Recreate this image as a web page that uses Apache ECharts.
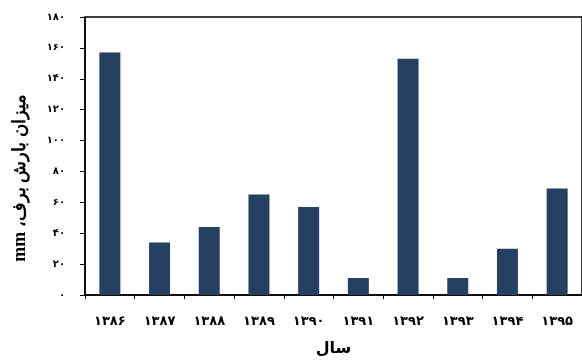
<!DOCTYPE html>
<html>
<head>
<meta charset="utf-8">
<script src="https://cdn.jsdelivr.net/npm/echarts@6/dist/echarts.min.js"></script>
<style>
  html, body { margin: 0; padding: 0; background: #fff; }
  #chart { width: 582px; height: 362px; }
</style>
</head>
<body>
<div id="chart"></div>
<script>
// Snowfall per year (Persian calendar), mm
const years = ['۱۳۸۶', '۱۳۸۷', '۱۳۸۸', '۱۳۸۹', '۱۳۹۰', '۱۳۹۱', '۱۳۹۲', '۱۳۹۳', '۱۳۹۴', '۱۳۹۵'];
const snowfall = [157, 34, 44, 65, 57, 11, 153, 11, 30, 69];
const yTicks = [0, 20, 40, 60, 80, 100, 120, 140, 160, 180];

const persianDigits = '۰۱۲۳۴۵۶۷۸۹';
const toPersian = n => String(n).replace(/\d/g, d => persianDigits[+d]);

const labelFont = '"DejaVu Sans", "Liberation Sans", sans-serif';

const chart = echarts.init(document.getElementById('chart'), null, { renderer: 'canvas' });
chart.setOption({
  animation: false,
  backgroundColor: '#ffffff',
  grid: {
    left: 85, top: 17, width: 502, height: 283,
    show: true, borderColor: '#000', borderWidth: 1.5, backgroundColor: 'transparent'
  },
  xAxis: {
    type: 'category',
    data: years,
    name: 'سال',
    nameLocation: 'middle',
    nameGap: 46,
    nameTextStyle: { fontFamily: labelFont, fontWeight: 'bold', fontSize: 16, color: '#000' },
    axisLine: { lineStyle: { color: '#000', width: 1.5 } },
    axisTick: { show: true, length: 4, lineStyle: { color: '#000' } },
    axisLabel: { margin: 20, fontFamily: labelFont, fontWeight: 'bold', fontSize: 13, color: '#000' }
  },
  yAxis: {
    type: 'value',
    min: yTicks[0],
    max: yTicks[yTicks.length - 1],
    interval: yTicks[1] - yTicks[0],
    axisLine: { show: true, lineStyle: { color: '#000', width: 1.5 } },
    axisTick: { show: true, length: 5, lineStyle: { color: '#000' } },
    splitLine: { show: false },
    axisLabel: {
      margin: 20,
      fontFamily: labelFont, fontWeight: 'bold', fontSize: 10, color: '#000',
      formatter: v => toPersian(v)
    }
  },
  graphic: [{
    type: 'text',
    x: 20, y: 178,
    rotation: Math.PI / 2,
    style: {
      text: 'mm ،میزان بارش برف',
      font: 'bold 18px "Liberation Serif", "DejaVu Serif", serif',
      fill: '#000',
      align: 'center',
      verticalAlign: 'middle'
    }
  }],
  series: [{
    type: 'bar',
    data: snowfall,
    barWidth: 21,
    itemStyle: { color: '#254061' }
  }]
});
</script>
</body>
</html>
